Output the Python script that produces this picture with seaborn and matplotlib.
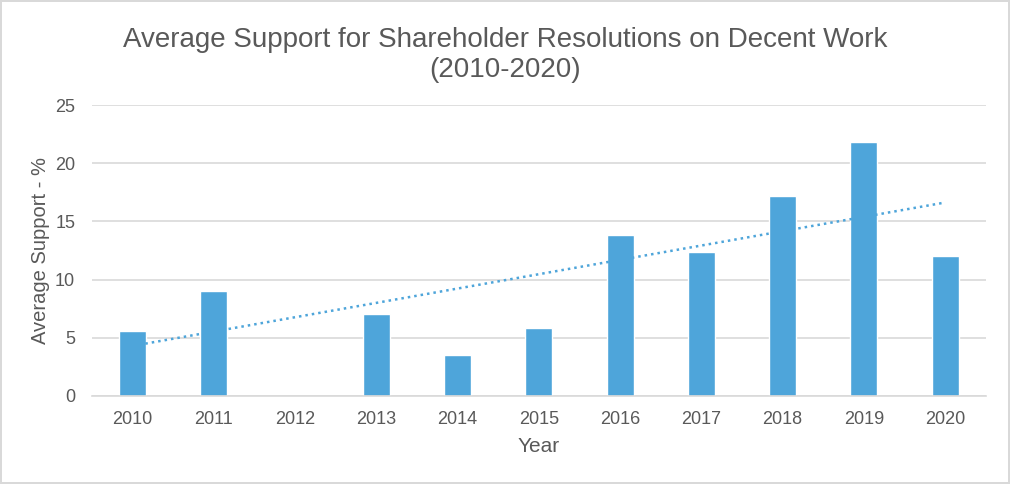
import numpy as np
import pandas as pd
import matplotlib
matplotlib.use("Agg")
import matplotlib.pyplot as plt
import seaborn as sns

years = ["2010", "2011", "2012", "2013", "2014", "2015", "2016", "2017", "2018", "2019", "2020"]
support = [5.6, 9.05, np.nan, 7.05, 3.55, 5.8, 13.8, 12.4, 17.15, 21.85, 12.05]

BAR = "#4ea5da"
GRID = "#d9d9d9"
TEXT = "#595959"

sns.set_style("white")
plt.rcParams["font.family"] = ["Liberation Sans", "DejaVu Sans"]

df = pd.DataFrame({"Year": years, "Support": support})
df["pos"] = np.arange(len(years))

fig = plt.figure(figsize=(10.1, 4.84), dpi=100, linewidth=1.5, edgecolor=GRID)
ax = fig.add_axes([0.091, 0.182, 0.885, 0.601])

sns.barplot(data=df, x="Year", y="Support", order=years, color=BAR,
            saturation=1, width=0.33, ax=ax)

# linear trend like Excel: blank year left out of the fit
sns.regplot(data=df.dropna(), x="pos", y="Support", scatter=False, ci=None,
            color=BAR, line_kws={"linestyle": (0, (1, 1.6)), "linewidth": 1.8},
            ax=ax)

ax.set_ylim(0, 25)
ax.set_xlim(-0.5, len(years) - 0.5)
ax.set_yticks(range(0, 26, 5))
ax.set_xticks(range(len(years)))
ax.set_xticklabels(years)
ax.yaxis.grid(True, color=GRID, linewidth=1.2)
ax.set_axisbelow(True)
for s in ["top", "right", "left"]:
    ax.spines[s].set_visible(False)
ax.spines["bottom"].set_color(GRID)
ax.spines["bottom"].set_linewidth(1.2)
ax.tick_params(axis="both", length=0, labelsize=13, colors=TEXT)
ax.tick_params(axis="x", pad=11)
ax.tick_params(axis="y", pad=12)

ax.set_xlabel("Year", fontsize=15, color=TEXT, labelpad=6)
ax.set_ylabel("Average Support - %", fontsize=14.5, color=TEXT, labelpad=4)
fig.suptitle("Average Support for Shareholder Resolutions on Decent Work\n(2010-2020)",
             fontsize=20, color=TEXT, y=0.945, linespacing=1.2)

fig.savefig("out.png", dpi=100)
